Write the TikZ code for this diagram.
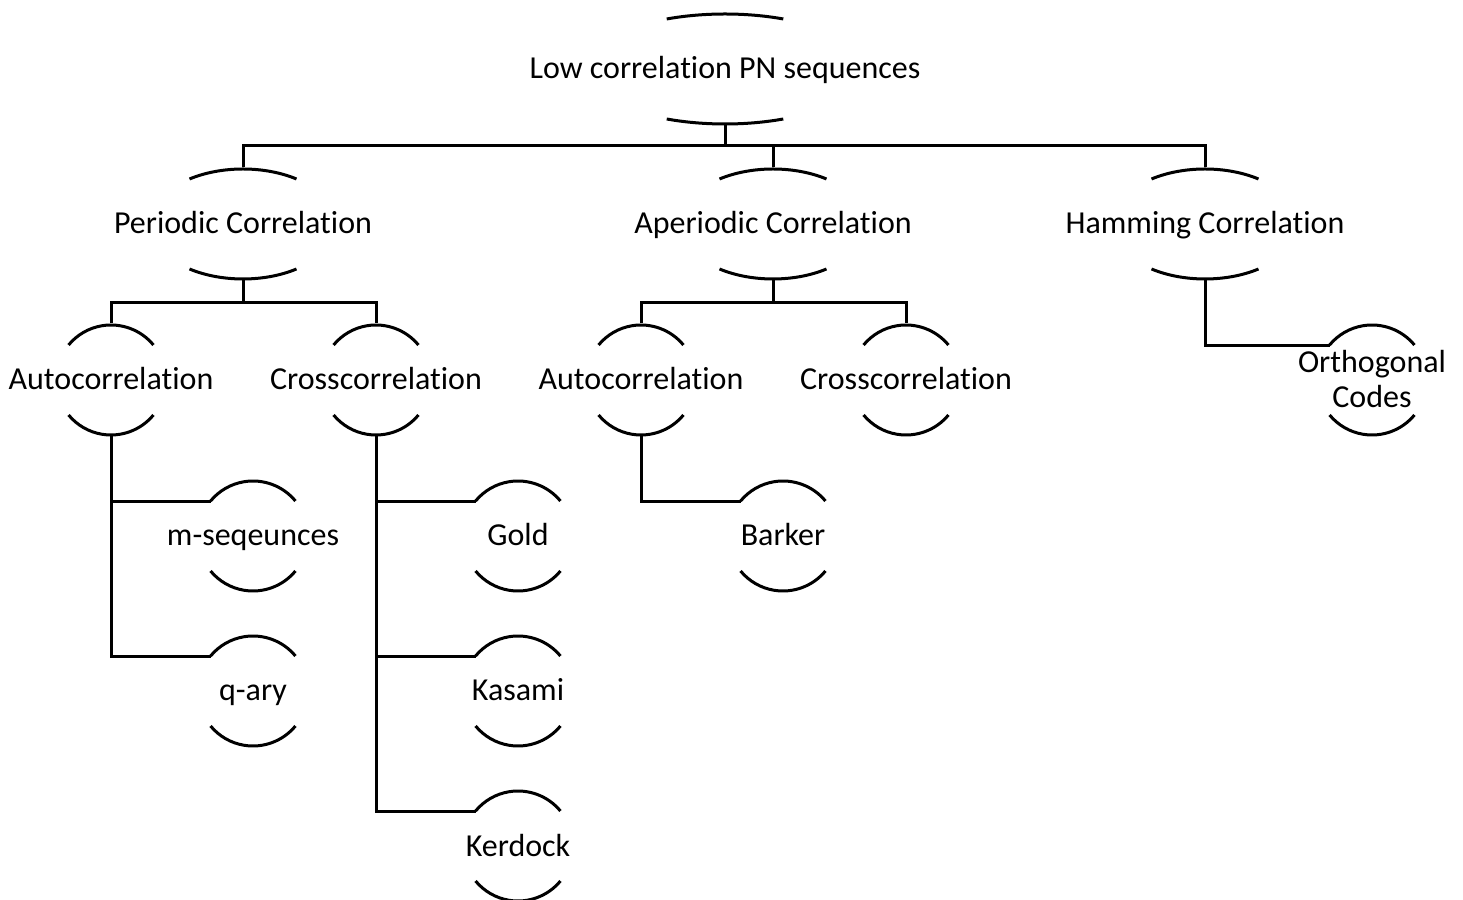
\documentclass[tikz,border=0pt]{standalone}
\usepackage{fontspec}
\setmainfont{Carlito}[RawFeature=-liga]
\usetikzlibrary{calc}

% Top and bottom caps of an elliptic outline around a label,
% plus a coordinate <node>-in at the left end of the upper cap.
\newcommand\drawcaps[4]{% node, x radius, y radius, start angle
  \draw ($(#1.center)+(#4:#2 and #3)$)
    arc[start angle=#4, end angle={180-#4}, x radius=#2, y radius=#3];
  \draw ($(#1.center)+(-#4:#2 and #3)$)
    arc[start angle=-#4, end angle={-180+#4}, x radius=#2, y radius=#3];
  \coordinate (#1-in) at ($(#1.center)+({180-#4}:#2 and #3)$);
}

\begin{document}
\begin{tikzpicture}[x=1pt, y=1pt, line width=3pt,
  lbl/.style={font=\fontsize{32}{34}\selectfont, inner sep=0pt,
    minimum height=110pt, text height=26pt, text depth=6pt},
  lbltwo/.style={font=\fontsize{32}{35}\selectfont, inner sep=0pt,
    align=center}]
\useasboundingbox (0,0) rectangle (1463,899);

% labels
\node[lbl] (root) at (725,830) {Low correlation PN sequences};

\node[lbl] (periodic)  at (243,675)  {Periodic Correlation};
\node[lbl] (aperiodic) at (773,675)  {Aperiodic Correlation};
\node[lbl] (hamming)   at (1205,675) {Hamming Correlation};

\node[lbl] (auto1)  at (111,519) {Autocorrelation};
\node[lbl] (cross1) at (376,519) {Crosscorrelation};
\node[lbl] (auto2)  at (641,519) {Autocorrelation};
\node[lbl] (cross2) at (906,519) {Crosscorrelation};
\coordinate (orthoc) at (1372,519);
\node[lbltwo] (ortho) at (1372,520) {Orthogonal\\Codes};

\node[lbl] (mseq)    at (253,363) {m-seqeunces};
\node[lbl] (qary)    at (253,208) {q-ary};
\node[lbl] (gold)    at (518,363) {Gold};
\node[lbl] (kasami)  at (518,208) {Kasami};
\node[lbl] (kerdock) at (518,53)  {Kerdock};
\node[lbl] (barker)  at (783,363) {Barker};

% outlines
\drawcaps{root}{140}{55}{65.4}
\foreach \n in {periodic,aperiodic,hamming}{\drawcaps{\n}{93}{55}{54.9}}
\foreach \n in {auto1,cross1,auto2,cross2,orthoc,mseq,qary,gold,kasami,kerdock,barker}
  {\drawcaps{\n}{55}{55}{39.5}}

% first level
\coordinate (busA) at (725,753);
\draw (root.south) -- (busA);
\draw (periodic.north) -- (periodic.north |- busA) -- (hamming.north |- busA) -- (hamming.north);
\draw (aperiodic.north) -- (aperiodic.north |- busA);

% second level
\coordinate (busB) at (0,596);
\draw (periodic.south) -- (periodic.south |- busB);
\draw (auto1.north) -- (auto1.north |- busB) -- (cross1.north |- busB) -- (cross1.north);
\draw (aperiodic.south) -- (aperiodic.south |- busB);
\draw (auto2.north) -- (auto2.north |- busB) -- (cross2.north |- busB) -- (cross2.north);
\draw (hamming.south) -- (hamming.south |- orthoc-in) -- (orthoc-in);

% leaves
\draw (auto1.south) -- (auto1.south |- qary-in) -- (qary-in);
\draw (auto1.south |- mseq-in) -- (mseq-in);
\draw (cross1.south) -- (cross1.south |- kerdock-in) -- (kerdock-in);
\draw (cross1.south |- gold-in) -- (gold-in);
\draw (cross1.south |- kasami-in) -- (kasami-in);
\draw (auto2.south) -- (auto2.south |- barker-in) -- (barker-in);
\end{tikzpicture}
\end{document}
